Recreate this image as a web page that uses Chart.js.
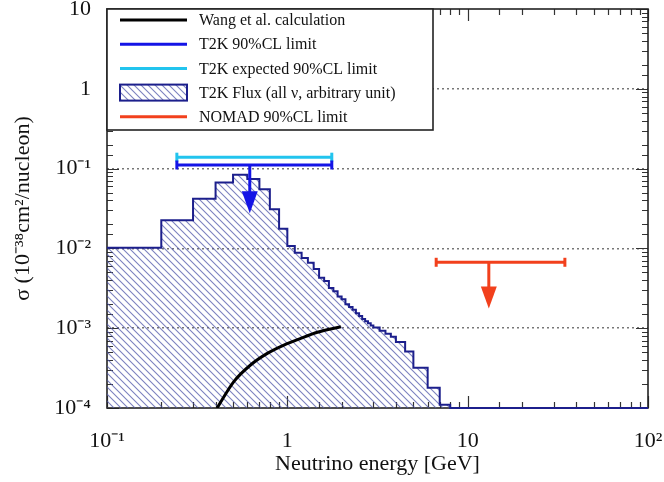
<!DOCTYPE html>
<html lang="en">
<head>
<meta charset="UTF-8">
<title>NC coherent pion cross section limits</title>
<script src="https://cdn.jsdelivr.net/npm/chart.js"></script>
<style>
  body { margin: 0; background: #fff; }
</style>
</head>
<body>
<canvas id="chart" width="664" height="482"></canvas>
<script>
// T2K flux histogram: bin edges [GeV] and heights (arbitrary unit)
const fluxEdges = [0.1, 0.2, 0.3, 0.4, 0.5, 0.6, 0.7, 0.8, 0.9, 1.0,
  1.1, 1.2, 1.3, 1.4, 1.5, 1.6, 1.7, 1.8, 1.9, 2.0,
  2.1, 2.2, 2.3, 2.4, 2.5, 2.6, 2.7, 2.8, 2.9, 3.0,
  3.25, 3.5, 3.75, 4.0, 4.5, 5.0, 6.0, 7.0, 8.0, 100]
const fluxValues = [0.0102, 0.0226, 0.042, 0.067, 0.084, 0.074, 0.055, 0.031, 0.0176,
  0.0107, 0.0088, 0.0076, 0.0066, 0.0055, 0.0043, 0.0039, 0.0032, 0.0029, 0.0025,
  0.0023, 0.0020, 0.00185, 0.0017, 0.00154, 0.00142, 0.0013, 0.00122, 0.00115, 0.00108,
  0.00102, 0.00093, 0.00085, 0.00078, 0.00067, 0.00051, 0.00032, 0.00018, 0.00011, 0.0001]

// Wang et al. calculation
const wangEnergy = [0.408, 0.505, 0.625, 0.774, 0.957, 1.186, 1.469, 1.98]
const wangXsec = [1.0e-4, 2.14e-4, 3.46e-4, 4.84e-4, 6.15e-4, 7.46e-4, 8.89e-4, 1.045e-3]

// 90% CL limits: energy range and value
const t2kRange = [0.244, 1.764]
const t2kLimit = 0.111
const t2kExpected = 0.139
const nomadRange = [6.69, 34.6]
const nomadLimit = 0.0067

// downward arrows (energy, start, tip)
const arrowEnergy = [0.619, 13.1]
const arrowFrom = [0.111, 0.0067]
const arrowTip = [0.0275, 0.00177]

const legendLabels = ['Wang et al. calculation', 'T2K 90%CL limit',
  'T2K expected 90%CL limit', 'T2K Flux (all \u03bd, arbitrary unit)', 'NOMAD 90%CL limit']

const xTickValues = [0.1, 1, 10, 100]
const xTickLabels = ['10\u207b\u00b9', '1', '10', '10\u00b2']
const yTickValues = [1e-4, 1e-3, 1e-2, 0.1, 1, 10]
const yTickLabels = ['10\u207b\u2074', '10\u207b\u00b3', '10\u207b\u00b2', '10\u207b\u00b9', '1', '10']

const serif = '"Liberation Serif", "Times New Roman", serif'

const isDecade = v => Math.abs(Math.log10(v) - Math.round(Math.log10(v))) < 1e-6
const labelFor = (v, values, labels) => {
  const i = values.findIndex(t => Math.abs(Math.log10(v) - Math.log10(t)) < 1e-6)
  return i < 0 ? '' : labels[i]
}

/* hatch pattern for the flux */
const makeHatch = () => {
  const s = 7
  const c = document.createElement('canvas')
  c.width = s; c.height = s
  const g = c.getContext('2d')
  g.strokeStyle = 'rgba(80, 88, 170, 0.75)'
  g.lineWidth = 1.1
  g.beginPath()
  g.moveTo(0, 0); g.lineTo(s, s)
  g.moveTo(-1, s - 1); g.lineTo(1, s + 1)
  g.moveTo(s - 1, -1); g.lineTo(s + 1, 1)
  g.stroke()
  return g.createPattern(c, 'repeat')
}
const hatch = makeHatch()

/* histogram points for a step line */
const fluxPoints = fluxValues.map((v, i) => ({x: fluxEdges[i], y: v}))
fluxPoints.push({x: fluxEdges[fluxEdges.length - 1], y: fluxValues[fluxValues.length - 1]})

const colors = {wang: '#000000', t2k: '#1414e6', expected: '#22c4ee', flux: '#1c1f8c', nomad: '#f2401c'}

const capped = (label, range, value, color, rank, order) => ({
  label: label,
  data: range.map(e => ({x: e, y: value})),
  borderColor: color,
  borderWidth: 3,
  pointStyle: 'line',
  pointRotation: 90,
  pointRadius: 4.5,
  pointBorderWidth: 3,
  pointBorderColor: color,
  legendRank: rank,
  order: order,
})

/* frame with inward ticks on all sides */
const frame = {
  id: 'frame',
  beforeDatasetsDraw(chart) {
    const {ctx, chartArea: a, scales: {x, y}} = chart
    ctx.save()
    ctx.strokeStyle = '#333'
    ctx.lineWidth = 1.2
    ctx.beginPath()
    x.ticks.forEach(t => {
      const px = Math.round(x.getPixelForValue(t.value)) + 0.5
      const len = isDecade(t.value) ? 12 : 6
      ctx.moveTo(px, a.bottom); ctx.lineTo(px, a.bottom - len)
      ctx.moveTo(px, a.top); ctx.lineTo(px, a.top + len)
    })
    y.ticks.forEach(t => {
      const py = Math.round(y.getPixelForValue(t.value)) + 0.5
      const len = isDecade(t.value) ? 12 : 6
      ctx.moveTo(a.left, py); ctx.lineTo(a.left + len, py)
      ctx.moveTo(a.right, py); ctx.lineTo(a.right - len, py)
    })
    ctx.stroke()
    ctx.strokeStyle = '#222'
    ctx.lineWidth = 1.6
    ctx.strokeRect(a.left, a.top, a.right - a.left, a.bottom - a.top)
    ctx.restore()
  },
  afterDatasetsDraw(chart) {
    const {ctx, scales: {x, y}} = chart
    const arrowColors = [colors.t2k, colors.nomad]
    ctx.save()
    arrowEnergy.forEach((e, i) => {
      const px = x.getPixelForValue(e)
      const y0 = y.getPixelForValue(arrowFrom[i])
      const y1 = y.getPixelForValue(arrowTip[i])
      const head = 22, half = 8
      ctx.strokeStyle = arrowColors[i]
      ctx.fillStyle = arrowColors[i]
      ctx.lineWidth = 3
      ctx.beginPath()
      ctx.moveTo(px, y0); ctx.lineTo(px, y1 - head + 1)
      ctx.stroke()
      ctx.beginPath()
      ctx.moveTo(px - half, y1 - head); ctx.lineTo(px + half, y1 - head); ctx.lineTo(px, y1)
      ctx.closePath()
      ctx.fill()
    })
    ctx.restore()
  },
}

/* legend box in the top-left corner */
const legendBox = {
  id: 'legendBox',
  afterDraw(chart) {
    const {ctx, chartArea: a} = chart
    const items = chart.data.datasets.filter(d => d.legendRank).sort((p, q) => p.legendRank - q.legendRank)
    const rowH = 24.2
    const w = 326, h = 121
    ctx.save()
    ctx.fillStyle = '#fff'
    ctx.fillRect(a.left, a.top, w, h)
    ctx.strokeStyle = '#222'
    ctx.lineWidth = 1.6
    ctx.strokeRect(a.left, a.top, w, h)
    ctx.font = '16px ' + serif
    ctx.textBaseline = 'middle'
    items.forEach((d, i) => {
      const cy = a.top + 11 + i * rowH
      if (d.fill) {
        ctx.fillStyle = d.backgroundColor
        ctx.fillRect(a.left + 13, cy - 8, 67, 16)
        ctx.strokeStyle = d.borderColor
        ctx.lineWidth = 2
        ctx.strokeRect(a.left + 13, cy - 8, 67, 16)
      } else {
        ctx.strokeStyle = d.borderColor
        ctx.lineWidth = 3
        ctx.beginPath()
        ctx.moveTo(a.left + 13, cy); ctx.lineTo(a.left + 80, cy)
        ctx.stroke()
      }
      ctx.fillStyle = '#111'
      ctx.fillText(legendLabels[d.legendRank - 1], a.left + 92, cy + 1)
    })
    ctx.restore()
  }
}

const noPad = scale => {
  scale.paddingTop = 0; scale.paddingBottom = 0
  scale.paddingLeft = 0; scale.paddingRight = 0
}

new Chart(document.getElementById('chart'), {
  type: 'line',
  data: {
    datasets: [
      capped('T2K expected 90%CL limit', t2kRange, t2kExpected, colors.expected, 3, 2),
      capped('T2K 90%CL limit', t2kRange, t2kLimit, colors.t2k, 2, 1),
      capped('NOMAD 90%CL limit', nomadRange, nomadLimit, colors.nomad, 5, 3),
      {
        label: 'Wang et al. calculation',
        data: wangEnergy.map((e, i) => ({x: e, y: wangXsec[i]})),
        borderColor: colors.wang,
        borderWidth: 3,
        pointRadius: 0,
        cubicInterpolationMode: 'monotone',
        legendRank: 1,
        order: 4,
      },
      {
        label: 'T2K Flux',
        data: fluxPoints,
        stepped: 'before',
        borderColor: colors.flux,
        borderWidth: 2,
        backgroundColor: hatch,
        fill: 'start',
        pointRadius: 0,
        clip: 3,
        legendRank: 4,
        order: 5,
      },
    ]
  },
  options: {
    responsive: false,
    animation: false,
    layout: {padding: {left: 8, right: 16, top: 9, bottom: 0}},
    plugins: {legend: {display: false}, tooltip: {enabled: false}},
    scales: {
      x: {
        type: 'logarithmic',
        min: 0.1,
        max: 100,
        border: {display: false},
        grid: {display: false, drawTicks: false},
        ticks: {
          autoSkip: false,
          maxRotation: 0,
          padding: 20,
          color: '#111',
          font: {family: serif, size: 22},
          callback: v => labelFor(v, xTickValues, xTickLabels),
        },
        title: {
          display: true,
          text: 'Neutrino energy [GeV]',
          color: '#111',
          font: {family: serif, size: 22},
          padding: {top: 0, bottom: 5},
        },
        afterFit: scale => { scale.height = 74; noPad(scale) },
      },
      y: {
        type: 'logarithmic',
        min: 1e-4,
        max: 10,
        border: {display: false, dash: [2, 3]},
        grid: {
          drawTicks: false,
          lineWidth: 1.5,
          color: c => (isDecade(c.tick.value) && c.tick.value > 1e-4 && c.tick.value < 10) ? '#777' : 'rgba(0,0,0,0)',
        },
        ticks: {
          autoSkip: false,
          padding: 16,
          color: '#111',
          font: {family: serif, size: 22},
          callback: v => labelFor(v, yTickValues, yTickLabels),
        },
        title: {
          display: true,
          text: '\u03c3 (10\u207b\u00b3\u2078cm\u00b2/nucleon)',
          color: '#111',
          font: {family: serif, size: 22},
          padding: {top: 2, bottom: 0},
        },
        afterFit: scale => { scale.width = 99; noPad(scale) },
      },
    },
  },
  plugins: [frame, legendBox],
})
</script>
</body>
</html>
